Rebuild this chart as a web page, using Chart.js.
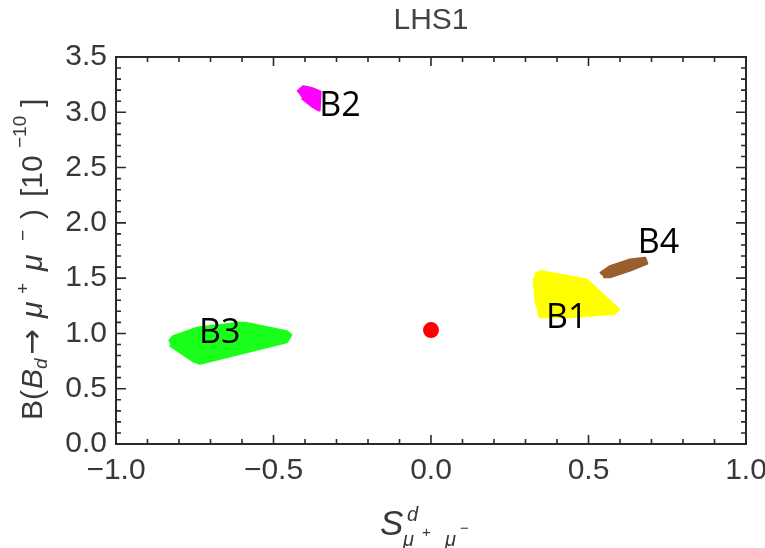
<!DOCTYPE html>
<html>
<head>
<meta charset="utf-8">
<script src="https://cdn.jsdelivr.net/npm/chart.js@4/dist/chart.umd.min.js"></script>
<style>
  body { margin: 0; background: #fff; }
  canvas { display: block; }
</style>
</head>
<body>
<canvas id="lhs" width="765" height="548"></canvas>
<script>
// Allowed regions in the (S, B) plane
const b1X = [0.330, 0.351, 0.494, 0.595, 0.584, 0.441, 0.346, 0.333, 0.327];
const b1Y = [1.537, 1.558, 1.483, 1.218, 1.182, 1.151, 1.151, 1.302, 1.498];

const b2X = [-0.424, -0.405, -0.379, -0.352, -0.355, -0.374, -0.410];
const b2Y = [3.185, 3.231, 3.216, 3.185, 3.020, 3.050, 3.131];

const b3X = [-0.831, -0.819, -0.744, -0.617, -0.585, -0.458, -0.445, -0.458, -0.733, -0.755, -0.829];
const b3Y = [0.925, 0.970, 1.046, 1.091, 1.091, 1.015, 0.986, 0.925, 0.730, 0.753, 0.895];

const b4X = [0.537, 0.568, 0.632, 0.679, 0.685, 0.632, 0.568, 0.547];
const b4Y = [1.543, 1.603, 1.664, 1.679, 1.634, 1.573, 1.513, 1.513];

// Standard model point
const smX = [0.0];
const smY = [1.03];

// region names and where their labels sit
const regionNames = ['B1', 'B2', 'B3', 'B4'];
const labelX = [0.431, -0.289, -0.671, 0.722];
const labelY = [1.159, 3.080, 1.023, 1.837];

const textGray = '#383838';

function pts(xs, ys) {
    return xs.map((x, i) => ({ x: x, y: ys[i] }));
}

function region(xs, ys, color) {
    return {
        type: 'line',
        data: pts(xs, ys),
        showLine: true,
        fill: 'shape',
        backgroundColor: color,
        borderColor: color,
        borderWidth: 3,
        borderJoinStyle: 'round',
        pointRadius: 0,
        tension: 0
    };
}

function isMajor(v) {
    return Math.abs(v * 2 - Math.round(v * 2)) < 1e-6;
}

function fmt(v) {
    return (v < -1e-9 ? '\u2212' : '') + Math.abs(v).toFixed(1);
}

// box with inward ticks on all four sides, then the region labels
const framePlugin = {
    id: 'frame',
    afterDatasetsDraw(chart) {
        const ctx = chart.ctx, a = chart.chartArea;
        const xs = chart.scales.x, ys = chart.scales.y;
        ctx.save();
        ctx.strokeStyle = '#2a2a2a';
        ctx.lineWidth = 2;
        ctx.strokeRect(a.left, a.top, a.right - a.left, a.bottom - a.top);
        ctx.lineWidth = 1.6;
        ctx.beginPath();
        xs.ticks.forEach(t => {
            const p = xs.getPixelForValue(t.value);
            const len = isMajor(t.value) ? 9 : 5;
            ctx.moveTo(p, a.bottom); ctx.lineTo(p, a.bottom - len);
            ctx.moveTo(p, a.top); ctx.lineTo(p, a.top + len);
        });
        ys.ticks.forEach(t => {
            const p = ys.getPixelForValue(t.value);
            const len = isMajor(t.value) ? 10 : 5;
            ctx.moveTo(a.left, p); ctx.lineTo(a.left + len, p);
            ctx.moveTo(a.right, p); ctx.lineTo(a.right - len, p);
        });
        ctx.stroke();

        ctx.fillStyle = '#000';
        ctx.font = '34px "Open Sans"';
        ctx.textAlign = 'center';
        ctx.textBaseline = 'alphabetic';
        regionNames.forEach((n, i) => {
            const px = xs.getPixelForValue(labelX[i]);
            const py = ys.getPixelForValue(labelY[i]);
            ctx.fillText(n, px, py + 34 * 0.714 / 2);
        });
        ctx.restore();
    }
};

// axis titles with sub/superscripts
const axisTitles = {
    id: 'axisTitles',
    afterDraw(chart) {
        const ctx = chart.ctx, a = chart.chartArea;
        const fam = '"Liberation Sans"';
        ctx.save();
        ctx.fillStyle = textGray;
        ctx.textBaseline = 'alphabetic';
        ctx.textAlign = 'left';

        // y title: B( B_d -> mu+ mu- ) [10^-10], read bottom to top
        // [text, font, baseline shift, offset along the label]
        const segs = [
            ['B(', '30px ' + fam, 0, 0],
            ['B', 'italic 30px ' + fam, 0, 31],
            ['d', 'italic 19px ' + fam, 5, 51],
            ['\u2192', '31px "DejaVu Sans"', 0, 65],
            ['\u03bc', 'italic 30px ' + fam, 0, 102],
            ['+', '19px ' + fam, -13, 126],
            ['\u03bc', 'italic 30px ' + fam, 0, 149],
            ['\u2212', '19px ' + fam, -13, 179],
            [')', '30px ' + fam, 0, 201],
            ['[10', '30px ' + fam, 0, 223],
            ['\u221210', '19px ' + fam, -16, 272],
            [']', '30px ' + fam, 0, 313]
        ];
        ctx.translate(42, 420);
        ctx.rotate(-Math.PI / 2);
        segs.forEach(s => {
            ctx.font = s[1];
            ctx.fillText(s[0], s[3], s[2]);
        });
        ctx.setTransform(1, 0, 0, 1, 0, 0);

        // x title: S^d_{mu+ mu-}
        const cx = (a.left + a.right) / 2;
        ctx.font = 'italic 35px ' + fam;
        ctx.fillText('S', cx - 51, 535);
        ctx.font = 'italic 20px ' + fam;
        ctx.fillText('d', cx - 24, 521);
        ctx.fillText('\u03bc', cx - 28, 546);
        ctx.fillText('\u03bc', cx + 14, 546);
        ctx.font = '15px ' + fam;
        ctx.fillText('+', cx - 9, 537);
        ctx.fillText('\u2212', cx + 29, 533);
        ctx.restore();
    }
};

const tickFont = { family: 'Liberation Sans', size: 30 };

new Chart(document.getElementById('lhs'), {
    type: 'scatter',
    data: {
        datasets: [
            region(b1X, b1Y, '#ffff00'),
            region(b2X, b2Y, '#ff00ff'),
            region(b3X, b3Y, '#1aff1a'),
            region(b4X, b4Y, '#9b5f2d'),
            {
                type: 'scatter',
                data: pts(smX, smY),
                pointRadius: 8,
                pointBackgroundColor: '#ff0000',
                pointBorderWidth: 0
            }
        ]
    },
    options: {
        responsive: false,
        animation: false,
        layout: { padding: { top: 0, right: 19, bottom: 0, left: 0 } },
        plugins: {
            legend: { display: false },
            tooltip: { enabled: false },
            title: {
                display: true,
                fullSize: false,
                text: 'LHS1',
                color: '#444',
                font: { family: 'Liberation Sans', size: 30, weight: 'normal' },
                padding: { top: 3, bottom: 18 }
            }
        },
        scales: {
            x: {
                type: 'linear',
                min: -1, max: 1,
                grid: { display: false, drawTicks: false },
                border: { display: false },
                ticks: {
                    stepSize: 0.1, autoSkip: false, maxRotation: 0, maxTicksLimit: 100,
                    padding: 9, font: tickFont, color: textGray,
                    callback: v => isMajor(v) ? fmt(v) : ''
                },
                afterFit(s) { s.height = 104; s.paddingLeft = 0; s.paddingRight = 0; }
            },
            y: {
                min: 0, max: 3.5,
                grid: { display: false, drawTicks: false },
                border: { display: false },
                ticks: {
                    stepSize: 0.1, autoSkip: false, maxTicksLimit: 100,
                    padding: 9, font: tickFont, color: textGray,
                    callback: v => isMajor(v) ? fmt(v) : ''
                },
                afterFit(s) { s.width = 116; s.paddingTop = 0; s.paddingBottom = 0; }
            }
        }
    },
    plugins: [framePlugin, axisTitles]
});
</script>
</body>
</html>
